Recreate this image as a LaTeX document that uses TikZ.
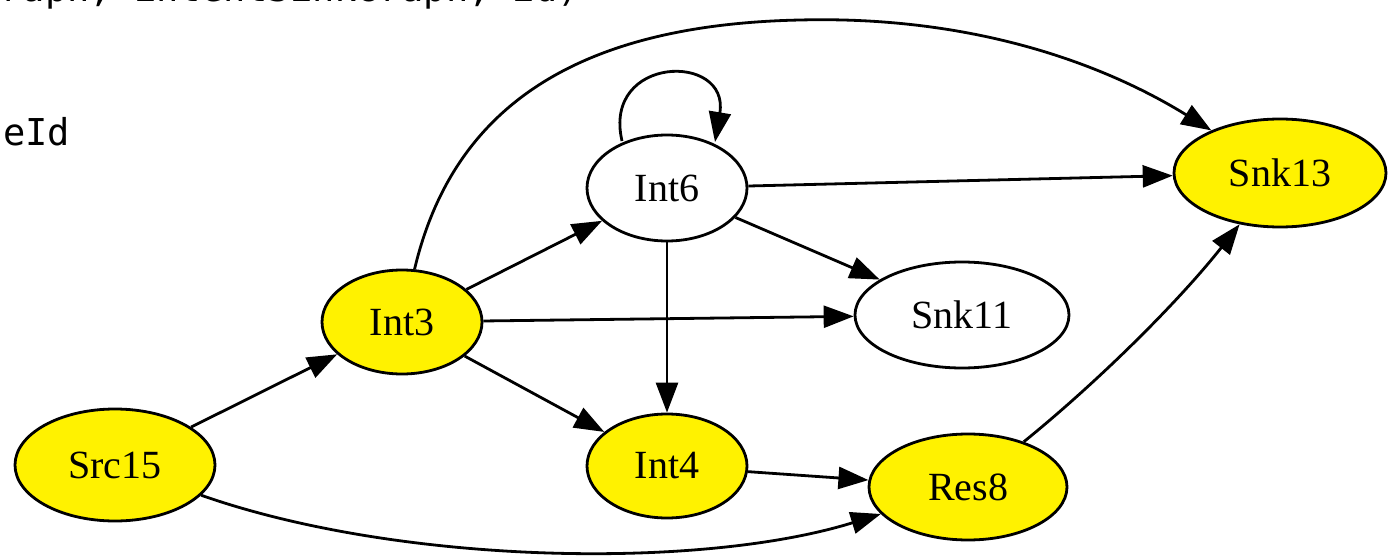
\documentclass[tikz,border=0pt]{standalone}
\usepackage{fontspec}
\setmainfont{Liberation Serif}
\newfontfamily\codefont{DejaVu Sans Mono}
\usetikzlibrary{shapes.geometric,arrows.meta}

\begin{document}
\begin{tikzpicture}[x=1pt,y=-1pt,
  vertex/.style={ellipse, draw, line width=2.8pt, inner sep=0pt,
    font=\fontsize{40}{48}\selectfont},
  marked/.style={vertex, fill=yellow},
  edge/.style={line width=2.8pt, -{Triangle[length=30pt,width=22pt]}}]

% Page frame
\useasboundingbox (0,0) rectangle (1395,559);
\clip (0,0) rectangle (1395,559);

% Code lines behind the graph
\node[anchor=base east, inner sep=0pt, font=\codefont\fontsize{37}{44}\selectfont]
  (callline) at (580,2) {sourceGraph, intentSinkGraph, id)};
\node[anchor=base west, inner sep=0pt, font=\codefont\fontsize{37}{44}\selectfont]
  (idline) at (3,146) {eId};

% Nodes of the graph
\node[marked, minimum width=200pt, minimum height=112pt] (src15) at (115,465) {Src15};
\node[marked, minimum width=160pt, minimum height=104pt] (int3) at (402,322) {Int3};
\node[vertex, minimum width=160pt, minimum height=106pt] (int6) at (667,188) {Int6};
\node[marked, minimum width=160pt, minimum height=104pt] (int4) at (667,466) {Int4};
\node[vertex, minimum width=214pt, minimum height=106pt] (snk11) at (962,315) {Snk11};
\node[marked, minimum width=198pt, minimum height=106pt] (res8) at (968,487) {Res8};
\node[marked, minimum width=212pt, minimum height=108pt] (snk13) at (1280,173) {Snk13};

% Straight edges
\draw[edge] (src15) -- (int3);
\draw[edge] (int3) -- (int6);
\draw[edge] (int3) -- (snk11);
\draw[edge] (int3) -- (int4);
\draw[edge] (int6) -- (snk13);
\draw[edge] (int6) -- (snk11);
\draw[edge] (int6) -- (int4);
\draw[edge] (int4) -- (res8);

% Curved edges
\coordinate (arctop) at (800,20);
\draw[edge] (src15) .. controls (400,565) and (700,570) .. (res8);
\draw[edge] (int3) .. controls (450,120) and (560,25) .. (arctop)
  .. controls (1000,15) and (1130,80) .. (snk13);
\draw[edge] (res8) .. controls (1100,380) and (1180,300) .. (snk13);

% Self loop on Int6
\coordinate (loopout) at (622,141);
\coordinate (loopin) at (715,142);
\draw[edge] (loopout) .. controls (602,55) and (730,52) .. (loopin);

\end{tikzpicture}
\end{document}
